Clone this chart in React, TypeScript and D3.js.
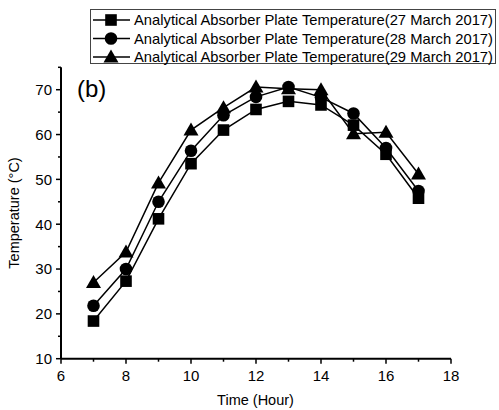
import React from "react";
import * as d3 from "d3";

const hours = [7, 8, 9, 10, 11, 12, 13, 14, 15, 16, 17];
const temp27 = [18.4, 27.3, 41.2, 53.5, 61.0, 65.6, 67.4, 66.6, 62.1, 55.6, 45.8];
const temp28 = [21.8, 30.0, 45.0, 56.4, 64.3, 68.4, 70.6, 68.3, 64.7, 57.0, 47.4];
const temp29 = [27.0, 33.8, 49.2, 61.0, 66.0, 70.6, 70.2, 70.0, 60.2, 60.5, 51.2];
const seriesNames = [
  "Analytical Absorber Plate Temperature(27 March 2017)",
  "Analytical Absorber Plate Temperature(28 March 2017)",
  "Analytical Absorber Plate Temperature(29 March 2017)",
];
const seriesShapes = ["square", "circle", "triangle"];
const xTicks = [6, 8, 10, 12, 14, 16, 18];
const xMinor = [7, 9, 11, 13, 15, 17];
const yTicks = [10, 20, 30, 40, 50, 60, 70];
const yMinor = [15, 25, 35, 45, 55, 65, 75];

const FONT = "'Liberation Sans', Arial, sans-serif";

function Marker({ shape, x, y }: { shape: string; x: number; y: number }) {
  if (shape === "square") return <rect x={x - 5.8} y={y - 5.8} width={11.6} height={11.6} fill="#000" />;
  if (shape === "circle") return <circle cx={x} cy={y} r={6.3} fill="#000" />;
  return <path d={`M${x},${y - 7.5} L${x + 7.5},${y + 5.5} L${x - 7.5},${y + 5.5} Z`} fill="#000" />;
}

export default function App() {
  const x = d3.scaleLinear().domain([6, 18]).range([61, 451]);
  const y = d3.scaleLinear().domain([10, 75]).range([358.7, 67.3]);
  const data = [temp27, temp28, temp29];
  const line = d3
    .line<number>()
    .x((_, i) => x(hours[i]))
    .y((d) => y(d));

  const order = [2, 1, 0];

  return (
    <svg width={499} height={410} style={{ position: "absolute", left: 0, top: 0, background: "#fff" }}>
      <rect x={0} y={0} width={499} height={410} fill="#fff" />
      {order.map((s) => (
        <path key={"l" + s} d={line(data[s]) || ""} fill="none" stroke="#000" strokeWidth={1.5} />
      ))}
      {order.map((s) =>
        data[s].map((v, i) => <Marker key={s + "-" + i} shape={seriesShapes[s]} x={x(hours[i])} y={y(v)} />)
      )}
      <line x1={x(6)} x2={x(18)} y1={y(10)} y2={y(10)} stroke="#000" strokeWidth={2} />
      <line x1={x(6)} x2={x(6)} y1={y(10)} y2={y(75)} stroke="#000" strokeWidth={2} />
      {xTicks.map((t) => (
        <g key={"xt" + t}>
          <line x1={x(t)} x2={x(t)} y1={y(10)} y2={y(10) + 5} stroke="#000" strokeWidth={1.5} />
          <text x={x(t)} y={y(10) + 22} textAnchor="middle" fontFamily={FONT} fontSize={15} fill="#000">
            {t}
          </text>
        </g>
      ))}
      {xMinor.map((t) => (
        <line key={"xm" + t} x1={x(t)} x2={x(t)} y1={y(10)} y2={y(10) + 3} stroke="#000" strokeWidth={1.5} />
      ))}
      {yTicks.map((t) => (
        <g key={"yt" + t}>
          <line x1={x(6) - 5} x2={x(6)} y1={y(t)} y2={y(t)} stroke="#000" strokeWidth={1.5} />
          <text x={x(6) - 9} y={y(t) + 5.3} textAnchor="end" fontFamily={FONT} fontSize={15} fill="#000">
            {t}
          </text>
        </g>
      ))}
      {yMinor.map((t) => (
        <line key={"ym" + t} x1={x(6) - 3} x2={x(6)} y1={y(t)} y2={y(t)} stroke="#000" strokeWidth={1.5} />
      ))}
      <text x={255.5} y={405} textAnchor="middle" fontFamily={FONT} fontSize={14.5} fill="#000">
        Time (Hour)
      </text>
      <text
        transform={`translate(19,${y(42.5)}) rotate(-90)`}
        textAnchor="middle"
        fontFamily={FONT}
        fontSize={14.5}
        fill="#000"
      >
        Temperature (°C)
      </text>
      <text x={77} y={97} fontFamily={FONT} fontSize={24} fill="#000">
        (b)
      </text>
      <rect x={90.5} y={9.5} width={405} height={54} fill="#fff" stroke="#444" strokeWidth={1} />
      {seriesNames.map((n, i) => {
        const ly = 20 + i * 18.5;
        return (
          <g key={"lg" + i}>
            <line x1={93} x2={130} y1={ly} y2={ly} stroke="#000" strokeWidth={1.5} />
            <Marker shape={seriesShapes[i]} x={111} y={ly} />
            <text
              x={134}
              y={ly + 5.2}
              fontFamily={FONT}
              fontSize={15}
              fill="#000"
              textLength={359}
              lengthAdjust="spacingAndGlyphs"
            >
              {n}
            </text>
          </g>
        );
      })}
    </svg>
  );
}
